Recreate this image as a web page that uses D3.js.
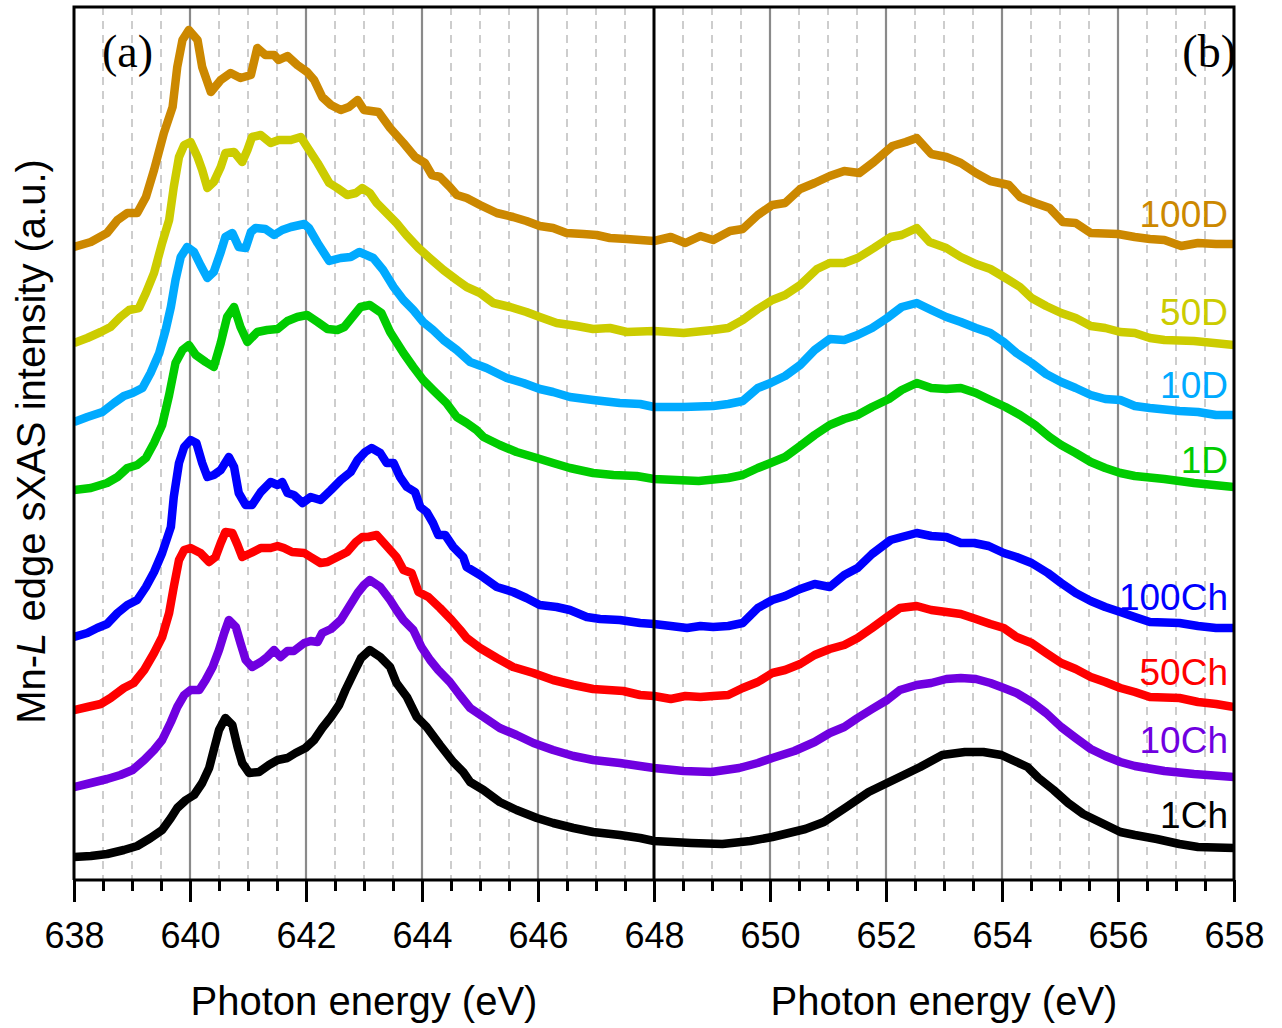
<!DOCTYPE html>
<html>
<head>
<meta charset="utf-8">
<script src="https://cdn.jsdelivr.net/npm/d3@7"></script>
<style>
  html, body { margin: 0; padding: 0; background: #fff; }
  svg { display: block; font-family: "Liberation Sans", Arial, sans-serif; }
</style>
</head>
<body>
<div id="chart"></div>
<script>
// Mn L-edge soft XAS spectra, [photon energy (eV), intensity (a.u., offset)]
const s100D = [[638.0,6.33],[638.29,6.38],[638.57,6.47],[638.75,6.60],[638.92,6.67],[639.09,6.67],[639.24,6.83],[639.38,7.10],[639.55,7.47],[639.70,7.73],[639.78,8.13],[639.87,8.40],[639.98,8.50],[640.13,8.40],[640.21,8.13],[640.36,7.88],[640.53,8.00],[640.70,8.07],[640.87,8.02],[641.05,8.05],[641.16,8.32],[641.30,8.25],[641.45,8.25],[641.53,8.20],[641.68,8.24],[641.85,8.15],[642.02,8.08],[642.14,8.00],[642.28,7.83],[642.43,7.75],[642.60,7.70],[642.74,7.73],[642.89,7.80],[643.0,7.70],[643.25,7.68],[643.45,7.52],[643.68,7.37],[643.88,7.23],[644.05,7.17],[644.17,7.05],[644.31,7.03],[644.48,6.93],[644.60,6.85],[644.77,6.82],[645.0,6.75],[645.29,6.67],[645.57,6.63],[645.80,6.59],[646.03,6.54],[646.26,6.52],[646.49,6.47],[646.78,6.46],[647.01,6.45],[647.24,6.42],[647.53,6.41],[648.0,6.39],[648.29,6.43],[648.54,6.37],[648.80,6.44],[649.02,6.40],[649.31,6.49],[649.53,6.51],[649.79,6.65],[650.04,6.75],[650.26,6.77],[650.52,6.91],[650.77,6.97],[651.03,7.04],[651.28,7.09],[651.54,7.07],[651.79,7.18],[652.11,7.34],[652.34,7.38],[652.53,7.42],[652.78,7.26],[653.04,7.23],[653.29,7.17],[653.55,7.07],[653.80,6.99],[654.12,6.95],[654.31,6.83],[654.57,6.77],[654.82,6.72],[655.05,6.58],[655.27,6.57],[655.53,6.47],[656.0,6.46],[656.29,6.43],[656.55,6.41],[656.80,6.40],[657.09,6.34],[657.38,6.37],[657.69,6.36],[658.0,6.36]];
const s50D = [[638.0,5.37],[638.23,5.42],[638.46,5.48],[638.63,5.53],[638.80,5.63],[638.95,5.70],[639.12,5.72],[639.24,5.87],[639.38,6.07],[639.52,6.37],[639.64,6.60],[639.72,6.93],[639.81,7.23],[639.90,7.35],[640.01,7.38],[640.13,7.23],[640.21,7.10],[640.30,6.92],[640.41,6.98],[640.53,7.13],[640.61,7.27],[640.76,7.28],[640.90,7.18],[640.99,7.30],[641.07,7.43],[641.22,7.45],[641.39,7.37],[641.53,7.40],[641.74,7.40],[641.91,7.43],[642.02,7.33],[642.20,7.17],[642.40,6.97],[642.54,6.92],[642.71,6.85],[642.86,6.87],[642.97,6.92],[643.10,6.87],[643.22,6.77],[643.39,6.67],[643.56,6.57],[643.73,6.45],[643.94,6.32],[644.17,6.20],[644.37,6.10],[644.60,6.00],[644.77,5.93],[645.0,5.87],[645.23,5.77],[645.52,5.73],[645.80,5.68],[646.03,5.63],[646.32,5.57],[646.67,5.54],[646.95,5.51],[647.24,5.52],[647.53,5.48],[648.0,5.49],[648.51,5.47],[649.02,5.50],[649.28,5.52],[649.53,5.60],[649.79,5.71],[650.04,5.80],[650.26,5.85],[650.52,5.95],[650.81,6.11],[651.03,6.17],[651.28,6.17],[651.51,6.22],[651.79,6.32],[652.08,6.43],[652.27,6.45],[652.53,6.52],[652.75,6.38],[653.04,6.32],[653.29,6.23],[653.55,6.16],[653.80,6.11],[654.06,6.02],[654.31,5.93],[654.51,5.82],[654.76,5.74],[655.02,5.67],[655.27,5.62],[655.53,5.54],[655.78,5.52],[656.04,5.48],[656.29,5.47],[656.55,5.42],[656.80,5.40],[657.31,5.39],[658.0,5.35]];
const s10D = [[638.0,4.58],[638.23,4.63],[638.49,4.68],[638.69,4.77],[638.86,4.84],[639.01,4.87],[639.18,4.92],[639.32,5.07],[639.47,5.27],[639.58,5.50],[639.67,5.73],[639.75,6.00],[639.84,6.23],[639.95,6.33],[640.07,6.28],[640.18,6.15],[640.30,6.02],[640.41,6.08],[640.53,6.28],[640.61,6.43],[640.73,6.47],[640.84,6.33],[640.96,6.32],[641.05,6.48],[641.13,6.52],[641.30,6.51],[641.45,6.45],[641.59,6.50],[641.74,6.53],[641.97,6.56],[642.05,6.52],[642.20,6.37],[642.40,6.19],[642.60,6.22],[642.77,6.23],[642.92,6.28],[643.16,6.22],[643.33,6.10],[643.51,5.93],[643.68,5.80],[643.85,5.70],[644.02,5.58],[644.19,5.50],[644.37,5.40],[644.60,5.30],[644.83,5.18],[645.11,5.12],[645.46,5.02],[645.75,4.97],[646.03,4.91],[646.26,4.88],[646.55,4.83],[646.95,4.80],[647.41,4.77],[647.76,4.76],[648.0,4.73],[648.51,4.73],[649.02,4.74],[649.28,4.76],[649.53,4.79],[649.79,4.92],[650.01,4.97],[650.26,5.04],[650.52,5.15],[650.77,5.30],[651.03,5.41],[651.28,5.40],[651.51,5.45],[651.76,5.52],[652.02,5.62],[652.27,5.73],[652.53,5.77],[652.78,5.70],[653.04,5.63],[653.29,5.58],[653.55,5.52],[653.80,5.47],[654.03,5.38],[654.25,5.27],[654.51,5.17],[654.76,5.06],[655.02,4.98],[655.27,4.92],[655.53,4.85],[655.78,4.81],[656.04,4.80],[656.29,4.74],[656.55,4.72],[657.06,4.69],[657.38,4.68],[657.69,4.65],[658.0,4.65]];
const s1D = [[638.0,3.90],[638.29,3.92],[638.57,3.97],[638.75,4.03],[638.92,4.12],[639.09,4.15],[639.24,4.22],[639.38,4.37],[639.52,4.55],[639.64,4.85],[639.75,5.17],[639.87,5.30],[639.98,5.35],[640.10,5.25],[640.27,5.18],[640.41,5.13],[640.53,5.37],[640.64,5.63],[640.76,5.73],[640.87,5.53],[640.99,5.38],[641.16,5.48],[641.33,5.50],[641.51,5.51],[641.68,5.59],[641.85,5.63],[642.02,5.65],[642.20,5.58],[642.37,5.51],[642.54,5.50],[642.66,5.53],[642.80,5.63],[642.94,5.73],[643.10,5.75],[643.30,5.67],[643.45,5.48],[643.68,5.27],[643.85,5.13],[644.02,5.00],[644.19,4.90],[644.42,4.77],[644.60,4.63],[644.77,4.57],[644.94,4.50],[645.06,4.43],[645.34,4.35],[645.63,4.28],[645.98,4.22],[646.26,4.17],[646.55,4.12],[646.95,4.07],[647.30,4.05],[647.70,4.04],[648.0,4.01],[648.77,3.99],[649.28,4.02],[649.53,4.05],[649.79,4.12],[650.01,4.17],[650.26,4.23],[650.52,4.34],[650.77,4.45],[651.03,4.55],[651.28,4.61],[651.51,4.65],[651.76,4.73],[652.05,4.81],[652.27,4.90],[652.53,4.97],[652.78,4.92],[653.04,4.91],[653.29,4.92],[653.55,4.87],[653.80,4.80],[654.06,4.73],[654.31,4.65],[654.57,4.55],[654.82,4.43],[655.02,4.35],[655.27,4.27],[655.53,4.18],[655.78,4.12],[656.04,4.07],[656.29,4.04],[656.80,4.01],[657.31,3.97],[658.0,3.93]];
const s100Ch = [[638.0,2.43],[638.23,2.47],[638.40,2.52],[638.57,2.56],[638.75,2.67],[638.92,2.75],[639.09,2.80],[639.24,2.93],[639.38,3.08],[639.52,3.27],[639.67,3.53],[639.72,3.83],[639.81,4.17],[639.90,4.33],[640.01,4.40],[640.11,4.37],[640.21,4.17],[640.30,4.03],[640.41,4.05],[640.53,4.10],[640.67,4.23],[640.76,4.13],[640.84,3.87],[640.96,3.75],[641.07,3.75],[641.22,3.88],[641.39,3.98],[641.51,3.95],[641.59,3.98],[641.68,3.87],[641.79,3.85],[641.94,3.77],[642.08,3.83],[642.25,3.80],[642.43,3.90],[642.60,4.00],[642.77,4.08],[642.89,4.20],[643.02,4.28],[643.13,4.32],[643.28,4.27],[643.39,4.17],[643.51,4.17],[643.62,4.03],[643.74,3.93],[643.88,3.88],[643.97,3.73],[644.08,3.68],[644.19,3.57],[644.28,3.45],[644.40,3.45],[644.54,3.33],[644.71,3.23],[644.77,3.13],[645.0,3.05],[645.29,2.93],[645.57,2.88],[645.80,2.82],[646.03,2.75],[646.32,2.73],[646.55,2.70],[646.84,2.63],[647.07,2.61],[647.41,2.60],[647.76,2.57],[648.0,2.56],[648.29,2.54],[648.57,2.52],[648.80,2.54],[649.02,2.53],[649.28,2.54],[649.53,2.57],[649.79,2.72],[650.04,2.80],[650.26,2.84],[650.52,2.91],[650.77,2.96],[651.03,2.93],[651.28,3.05],[651.51,3.12],[651.76,3.26],[652.08,3.40],[652.27,3.43],[652.53,3.47],[652.78,3.44],[653.04,3.43],[653.29,3.37],[653.52,3.37],[653.77,3.34],[654.03,3.27],[654.25,3.23],[654.51,3.17],[654.79,3.07],[655.02,2.97],[655.27,2.87],[655.53,2.79],[655.78,2.73],[656.04,2.68],[656.29,2.63],[656.55,2.58],[657.06,2.57],[657.38,2.54],[657.69,2.52],[658.0,2.52]];
const s50Ch = [[638.0,1.70],[638.23,1.73],[638.46,1.76],[638.63,1.82],[638.86,1.92],[639.03,1.97],[639.21,2.10],[639.38,2.27],[639.52,2.43],[639.64,2.67],[639.72,2.93],[639.81,3.20],[639.90,3.30],[640.01,3.32],[640.18,3.27],[640.33,3.18],[640.44,3.23],[640.53,3.37],[640.61,3.48],[640.73,3.47],[640.82,3.35],[640.90,3.23],[641.05,3.27],[641.22,3.32],[641.39,3.32],[641.51,3.34],[641.62,3.32],[641.76,3.28],[641.97,3.27],[642.08,3.23],[642.25,3.17],[642.37,3.18],[642.54,3.23],[642.71,3.28],[642.86,3.38],[642.97,3.43],[643.07,3.43],[643.22,3.45],[643.39,3.34],[643.56,3.23],[643.68,3.10],[643.82,3.07],[643.94,2.88],[644.11,2.83],[644.31,2.72],[644.51,2.60],[644.66,2.50],[644.77,2.42],[645.0,2.32],[645.29,2.22],[645.57,2.13],[645.92,2.07],[646.26,2.00],[646.61,1.95],[646.95,1.91],[647.47,1.89],[647.76,1.85],[648.0,1.84],[648.29,1.81],[648.54,1.84],[648.80,1.83],[649.02,1.84],[649.28,1.85],[649.53,1.92],[649.79,1.98],[650.04,2.07],[650.26,2.10],[650.52,2.16],[650.77,2.25],[651.03,2.31],[651.28,2.35],[651.51,2.42],[651.76,2.52],[652.02,2.63],[652.24,2.72],[652.53,2.74],[652.78,2.70],[653.04,2.68],[653.29,2.66],[653.55,2.61],[653.80,2.56],[654.03,2.52],[654.25,2.43],[654.51,2.37],[654.76,2.27],[655.02,2.17],[655.27,2.11],[655.53,2.03],[655.78,1.98],[656.04,1.92],[656.29,1.88],[656.55,1.83],[657.06,1.82],[657.38,1.78],[657.69,1.76],[658.0,1.73]];
const s10Ch = [[638.0,0.93],[638.29,0.97],[638.57,1.01],[638.80,1.05],[639.01,1.10],[639.21,1.20],[639.38,1.30],[639.52,1.40],[639.67,1.58],[639.78,1.73],[639.90,1.85],[640.01,1.90],[640.16,1.90],[640.27,2.00],[640.39,2.13],[640.50,2.30],[640.59,2.47],[640.67,2.60],[640.79,2.53],[640.87,2.37],[640.96,2.20],[641.07,2.13],[641.22,2.18],[641.33,2.23],[641.45,2.30],[641.56,2.23],[641.68,2.29],[641.79,2.29],[641.97,2.37],[642.08,2.39],[642.20,2.38],[642.28,2.47],[642.43,2.51],[642.60,2.60],[642.74,2.73],[642.89,2.87],[643.0,2.95],[643.10,3.00],[643.28,2.93],[643.45,2.80],[643.56,2.70],[643.68,2.60],[643.85,2.50],[643.99,2.33],[644.14,2.20],[644.28,2.10],[644.48,1.98],[644.65,1.85],[644.83,1.72],[645.06,1.63],[645.34,1.52],[645.63,1.45],[645.92,1.37],[646.26,1.30],[646.61,1.24],[646.95,1.20],[647.41,1.17],[647.76,1.14],[648.0,1.12],[648.51,1.09],[648.99,1.08],[649.47,1.12],[649.79,1.17],[650.04,1.22],[650.42,1.29],[650.77,1.38],[651.03,1.47],[651.28,1.53],[651.51,1.62],[651.76,1.71],[652.02,1.80],[652.24,1.90],[652.53,1.95],[652.78,1.97],[653.04,2.01],[653.29,2.02],[653.55,2.01],[653.80,1.97],[654.03,1.92],[654.25,1.87],[654.51,1.78],[654.76,1.67],[655.02,1.53],[655.27,1.42],[655.53,1.31],[655.78,1.24],[656.04,1.18],[656.29,1.14],[656.80,1.09],[657.31,1.06],[658.0,1.03]];
const s1Ch = [[638.0,0.23],[638.29,0.24],[638.57,0.26],[638.86,0.30],[639.09,0.34],[639.32,0.42],[639.52,0.50],[639.67,0.62],[639.78,0.72],[639.93,0.80],[640.07,0.85],[640.21,0.97],[640.33,1.12],[640.41,1.30],[640.50,1.50],[640.61,1.62],[640.73,1.55],[640.82,1.33],[640.90,1.17],[641.02,1.07],[641.19,1.08],[641.36,1.15],[641.51,1.20],[641.68,1.22],[641.82,1.27],[641.99,1.32],[642.14,1.40],[642.28,1.52],[642.43,1.63],[642.57,1.75],[642.68,1.90],[642.83,2.08],[642.95,2.22],[643.10,2.30],[643.28,2.23],[643.45,2.13],[643.56,1.97],[643.74,1.83],[643.91,1.63],[644.08,1.53],[644.31,1.35],[644.54,1.18],[644.71,1.08],[644.83,0.98],[645.06,0.90],[645.34,0.78],[645.63,0.70],[645.98,0.62],[646.26,0.57],[646.61,0.52],[646.95,0.48],[647.41,0.45],[647.76,0.42],[648.0,0.39],[648.64,0.37],[649.18,0.36],[649.66,0.39],[650.04,0.43],[650.61,0.51],[650.93,0.58],[651.32,0.73],[651.70,0.88],[652.02,0.97],[652.27,1.04],[652.59,1.13],[652.97,1.25],[653.36,1.28],[653.68,1.28],[653.99,1.25],[654.44,1.13],[654.63,1.02],[654.89,0.90],[655.14,0.77],[655.40,0.66],[655.72,0.57],[656.04,0.48],[656.29,0.45],[656.67,0.41],[657.06,0.36],[657.38,0.33],[658.0,0.32]];

const seriesNames = ["100D", "50D", "10D", "1D", "100Ch", "50Ch", "10Ch", "1Ch"];
const seriesData = [s100D, s50D, s10D, s1D, s100Ch, s50Ch, s10Ch, s1Ch];
const seriesColors = ["#CC8800", "#CCCC00", "#00AAFF", "#00CC00", "#0000FF", "#FF0000", "#7000E0", "#000000"];
// label baselines, in intensity units
const labelLevels = [6.53, 5.55, 4.82, 4.07, 2.70, 1.95, 1.27, 0.52];

const xMajorTicks = [638, 640, 642, 644, 646, 648, 650, 652, 654, 656, 658];
const panelLabels = ["(a)", "(b)"];

// ---- layout ----
const W = 1282, H = 1028;
const m = { left: 74, right: 48, top: 7, bottom: 148 };
const pw = W - m.left - m.right, ph = H - m.top - m.bottom;
const SANS = "'Liberation Sans', Arial, sans-serif";
const SERIF = "'Liberation Serif', 'Times New Roman', serif";

const x = d3.scaleLinear().domain([638, 658]).range([0, pw]);
const y = d3.scaleLinear().domain([0, 8.73]).range([ph, 0]);

const svg = d3.select("#chart").append("svg").attr("width", W).attr("height", H);
const g = svg.append("g").attr("transform", `translate(${m.left},${m.top})`);

svg.append("defs").append("clipPath").attr("id", "plotClip")
  .append("rect").attr("width", pw).attr("height", ph);

// dashed minor grid at 0.5 eV
const minorVals = d3.range(638.5, 658, 0.5).filter(v => Math.abs(v / 2 - Math.round(v / 2)) > 1e-6);
g.append("g").selectAll("line").data(minorVals).join("line")
  .attr("x1", d => x(d)).attr("x2", d => x(d)).attr("y1", 0).attr("y2", ph)
  .attr("stroke", "#bdbdbd").attr("stroke-width", 1.5).attr("stroke-dasharray", "8,6");

// solid major grid at 2 eV
g.append("g").selectAll("line").data(xMajorTicks.filter(v => v > 638 && v < 658 && v !== 648)).join("line")
  .attr("x1", d => x(d)).attr("x2", d => x(d)).attr("y1", 0).attr("y2", ph)
  .attr("stroke", "#8a8a8a").attr("stroke-width", 2.2);

// spectra
const line = d3.line().x(d => x(d[0])).y(d => y(d[1]));
const curves = g.append("g").attr("clip-path", "url(#plotClip)");
seriesData.forEach((data, i) => {
  curves.append("path").datum(data)
    .attr("d", line)
    .attr("fill", "none")
    .attr("stroke", seriesColors[i])
    .attr("stroke-width", 8.5)
    .attr("stroke-linejoin", "round")
    .attr("stroke-linecap", "butt");
});

// panel divider at 648 eV
g.append("line").attr("x1", x(648)).attr("x2", x(648)).attr("y1", 0).attr("y2", ph)
  .attr("stroke", "#000").attr("stroke-width", 3);

// frame: left, top, right
g.append("path")
  .attr("d", `M0,${ph} V0 H${pw} V${ph}`)
  .attr("fill", "none").attr("stroke", "#000").attr("stroke-width", 3);

// bottom axis: minor ticks then major ticks with labels
const minorAxis = d3.axisBottom(x).tickValues(d3.range(638, 658.01, 0.5)).tickSize(11).tickFormat("");
const gMinor = g.append("g").attr("transform", `translate(0,${ph})`).call(minorAxis);
gMinor.select(".domain").remove();
gMinor.selectAll("line").attr("stroke", "#000").attr("stroke-width", 3);

const majorAxis = d3.axisBottom(x).tickValues(xMajorTicks).tickSize(22).tickPadding(20).tickFormat(d3.format("d"));
const gMajor = g.append("g").attr("transform", `translate(0,${ph})`).call(majorAxis);
gMajor.select(".domain").attr("stroke", "#000").attr("stroke-width", 3).attr("d", `M0,0H${pw}`);
gMajor.selectAll("line").attr("stroke", "#000").attr("stroke-width", 3);
gMajor.selectAll("text").attr("fill", "#000")
  .style("font-family", SANS).style("font-size", "36px");

// axis titles
[[638, 648], [648, 658]].forEach(([a, b]) => {
  g.append("text")
    .attr("x", (x(a) + x(b)) / 2).attr("y", ph + 135)
    .attr("text-anchor", "middle").attr("fill", "#000")
    .style("font-family", SANS).style("font-size", "40px")
    .text("Photon energy (eV)");
});

const yTitle = svg.append("text")
  .attr("transform", `translate(45,${m.top + ph / 2 - 2}) rotate(-90)`)
  .attr("text-anchor", "middle").attr("fill", "#000")
  .style("font-family", SANS).style("font-size", "40px");
yTitle.append("tspan").text("Mn-");
yTitle.append("tspan").style("font-style", "italic").text("L");
yTitle.append("tspan").text(" edge sXAS intensity (a.u.)");

// series labels
seriesNames.forEach((name, i) => {
  g.append("text")
    .attr("x", x(658) - 6).attr("y", y(labelLevels[i]))
    .attr("text-anchor", "end").attr("fill", seriesColors[i])
    .style("font-family", SANS).style("font-size", "37px")
    .text(name);
});

// panel tags
g.append("text").attr("x", 28).attr("y", 60)
  .attr("fill", "#000")
  .style("font-family", SERIF).style("font-size", "46px")
  .text(panelLabels[0]);
g.append("text").attr("x", pw + 2).attr("y", 60).attr("text-anchor", "end")
  .attr("fill", "#000")
  .style("font-family", SERIF).style("font-size", "46px")
  .text(panelLabels[1]);
</script>
</body>
</html>
